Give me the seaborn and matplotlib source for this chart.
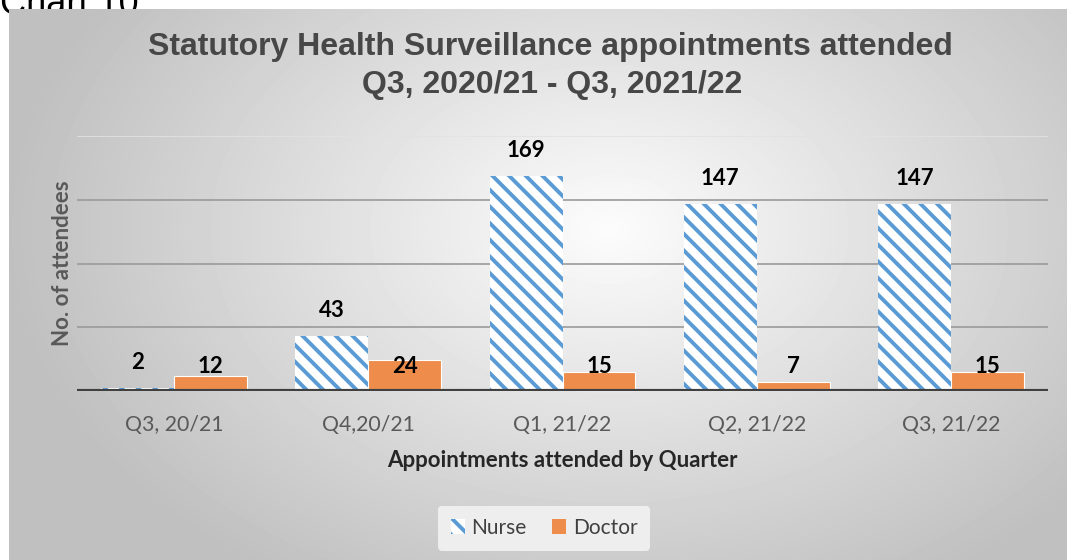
import numpy as np
import pandas as pd
import matplotlib
matplotlib.use('Agg')
import matplotlib.pyplot as plt
import matplotlib.patches as mpatches
import seaborn as sns

# dados do gráfico
quarters = ['Q3, 20/21', 'Q4,20/21', 'Q1, 21/22', 'Q2, 21/22', 'Q3, 21/22']
nurse = [2, 43, 169, 147, 147]
doctor = [12, 24, 15, 7, 15]

nurse_color = '#5B9BD5'
doctor_color = '#EE8D4B'

sns.set_style('white')
plt.rcParams['font.family'] = ['Lato', 'DejaVu Sans']
plt.rcParams['hatch.linewidth'] = 2.8

df = pd.DataFrame({
    'quarter': quarters * 2,
    'count': nurse + doctor,
    'role': ['Nurse'] * len(quarters) + ['Doctor'] * len(quarters),
})

W, H = 1067, 560
fig = plt.figure(figsize=(W / 100, H / 100), dpi=100, facecolor='white')

# "Chart 10" cortado no topo (fica atrás do painel)
fig.text(0.0, 1 - 14 / H, 'Chart 10', fontsize=26, family='Liberation Sans',
         va='baseline', ha='left', color='black', zorder=-5)

# fundo em gradiente
bg = fig.add_axes([9 / W, 0, 1 - 9 / W, 1 - 9 / H])
bg.set_zorder(-1)
yy, xx = np.mgrid[0:551, 0:1058]
d = np.sqrt(((xx - 600) / 700.0) ** 2 + ((yy - 220) / 480.0) ** 2)
grad = np.clip(252 - 70 * d, 192, 252) / 255.0
bg.imshow(grad, cmap='gray', vmin=0, vmax=1, aspect='auto', interpolation='bilinear')
bg.set_axis_off()

ax = fig.add_axes([77 / W, 1 - 391 / H, (1048 - 77) / W, (391 - 136) / H])
ax.patch.set_alpha(0)

sns.barplot(data=df, x='quarter', y='count', hue='role', order=quarters,
            hue_order=['Nurse', 'Doctor'], palette=[nurse_color, doctor_color],
            width=0.75, gap=0, saturation=1, ax=ax, legend=False, zorder=3)

for p in ax.containers[0]:
    p.set_facecolor('white')
    p.set_edgecolor(nurse_color)
    p.set_hatch('\\\\')
    p.set_linewidth(0)
for p in ax.containers[1]:
    p.set_edgecolor('white')
    p.set_linewidth(0.8)

ax.set_ylim(0, 200)
for g in [50, 100, 150]:
    ax.axhline(g, color='#9a9a9a', lw=1.2, zorder=1)
ax.axhline(200, color='#e2e2e2', lw=1.2, zorder=1)
ax.axhline(0, color='#404040', lw=3, zorder=4)
sns.despine(ax=ax, left=True, bottom=True)
ax.set_yticks([])
ax.tick_params(axis='x', length=0, pad=17, labelsize=15.3, labelcolor='#595959')

# rótulos de dados
for p, v in zip(ax.containers[0], nurse):
    ax.text(p.get_x() + p.get_width() / 2, v + 20, str(v), ha='center', va='center',
            fontsize=16, fontweight='bold', color='black', zorder=5)
for p, v in zip(ax.containers[1], doctor):
    ax.text(p.get_x() + p.get_width() / 2, 19, str(v), ha='center', va='center',
            fontsize=16, fontweight='bold', color='black', zorder=5)

ax.set_xlabel('Appointments attended by Quarter', fontsize=16, fontweight='bold',
              color='#262626', labelpad=11)
ax.set_ylabel('No. of attendees', fontsize=16, fontweight='bold', color='#595959',
              labelpad=3)

fig.text(550 / W, 1 - 47 / H,
         'Statutory Health Surveillance appointments attended',
         fontsize=23, fontweight='bold', color='#474747', ha='center', va='center',
         family='Liberation Sans')
fig.text(552 / W, 1 - 85 / H, 'Q3, 2020/21 - Q3, 2021/22',
         fontsize=23, fontweight='bold', color='#474747', ha='center', va='center',
         family='Liberation Sans')

handles = [mpatches.Patch(facecolor='white', edgecolor=nurse_color, hatch='\\\\', lw=0, label='Nurse'),
           mpatches.Patch(facecolor=doctor_color, edgecolor='none', label='Doctor')]
leg = fig.legend(handles=handles, loc='center', bbox_to_anchor=(544 / W, 1 - 528 / H),
                 ncol=2, frameon=True, fontsize=15, handlelength=0.7, handleheight=0.7,
                 handletextpad=0.3, columnspacing=1.2, borderpad=0.6, labelcolor='#404040')
leg.get_frame().set_facecolor('#f2f2f2')
leg.get_frame().set_edgecolor('none')
leg.get_frame().set_alpha(0.9)

fig.savefig('out.png', dpi=100, facecolor='white')
